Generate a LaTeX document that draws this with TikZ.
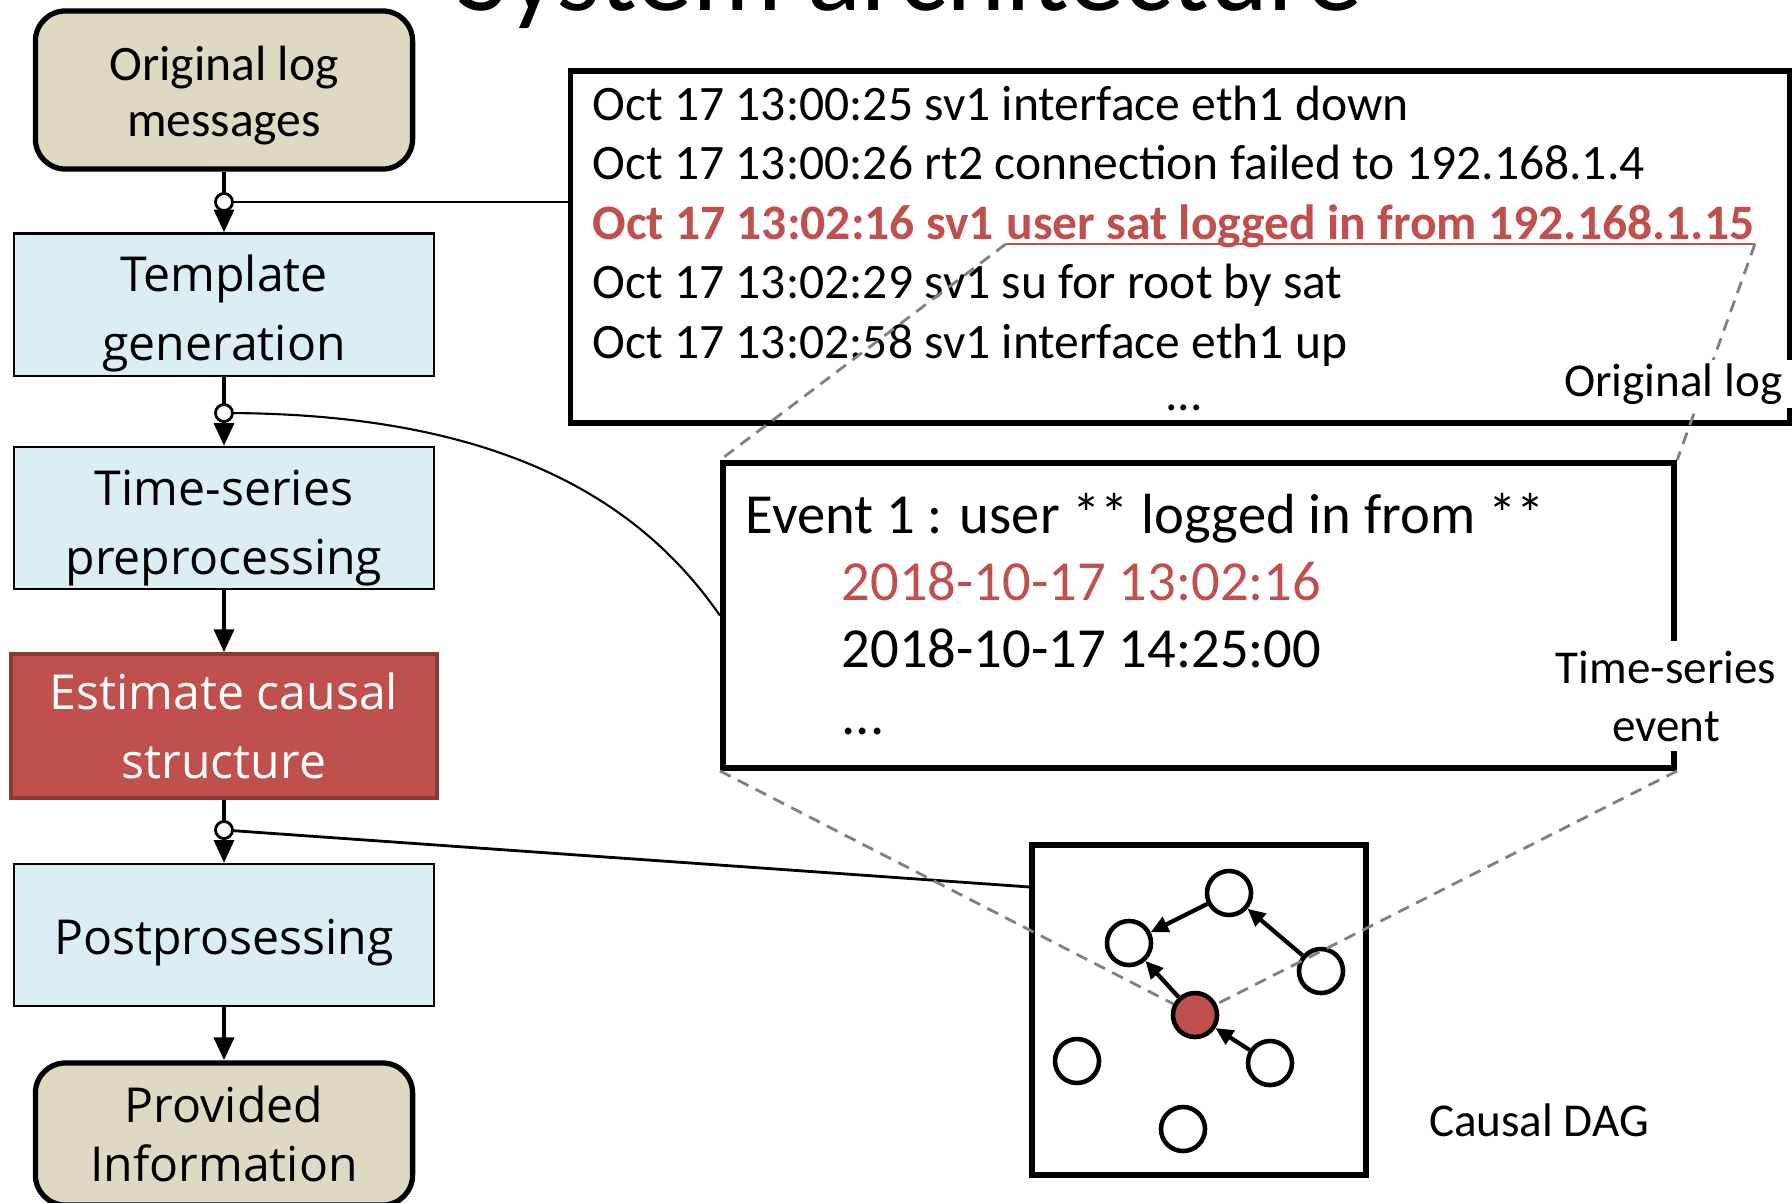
\documentclass[tikz,border=0pt]{standalone}
\usepackage{fontspec}
\setmainfont{Carlito}
\newfontfamily\boxfont{Open Sans}
\usepackage{tikz}
\usetikzlibrary{positioning}
\usetikzlibrary{arrows.meta}
\definecolor{tanfill}{HTML}{DDD9C3}
\definecolor{stepblue}{HTML}{DAEEF3}
\definecolor{causered}{HTML}{C0504D}
\definecolor{causeedge}{HTML}{8C3836}

\begin{document}
\begin{tikzpicture}[x=0.01cm, y=-0.01cm,
    endbox/.style={rectangle, rounded corners=0.3cm, draw, line width=1.5pt, fill=tanfill,
                   minimum width=3.77cm, minimum height=1.58cm, inner sep=0pt, align=center},
    stepbox/.style={rectangle, draw, line width=0.6pt, fill=stepblue,
                    minimum width=4.2cm, minimum height=1.42cm, inner sep=0pt, align=center,
                    font=\boxfont\fontsize{13.7}{19.6}\selectfont},
    flow/.style={line width=1.2pt, -{Triangle[length=6.5pt, width=5.6pt]}},
    junction/.style={circle, draw, line width=0.8pt, fill=white, minimum size=0.17cm, inner sep=0pt},
    panel/.style={rectangle, draw, line width=1.6pt, inner sep=0pt},
    logline/.style={anchor=base west, inner sep=0pt, font=\fontsize{14.1}{17}\selectfont},
    evline/.style={anchor=base west, inner sep=0pt, font=\fontsize{16.1}{19}\selectfont},
    tag/.style={fill=white, inner sep=0.04cm, align=center, font=\fontsize{13.4}{16.5}\selectfont},
    dagnode/.style={circle, draw, line width=1.3pt, fill=white, minimum size=0.44cm, inner sep=0pt},
    dagedge/.style={line width=1.2pt, -{Triangle[length=5pt, width=4.6pt]}},
    zoomline/.style={gray, line width=0.8pt, dash pattern=on 3.4pt off 2.3pt}]

  \useasboundingbox (0,0) rectangle (1792,1202);

  \node[anchor=base west, inner sep=0pt, font=\fontsize{32}{38}\selectfont] (title) at (456,10) {System architecture};

  % processing steps
  \node[endbox, font=\fontsize{14.1}{15.9}\selectfont] (orig) at (224,90) {\rule{0pt}{0.45cm}Original log\\messages};
  \node[stepbox] (tmpl) at (224,304.5) {\rule{0pt}{0.55cm}Template\\generation};
  \node[stepbox] (prep) at (224,518) {\rule{0pt}{0.55cm}Time-series\\preprocessing};
  \node[stepbox, fill=causered, draw=causeedge, line width=1pt, text=white,
        minimum width=4.26cm, minimum height=1.44cm] (est) at (224,726) {Estimate causal\\structure};
  \node[stepbox] (post) at (224,935) {\rule{0pt}{0.5cm}Postprosessing};
  \node[endbox, font=\boxfont\fontsize{13.7}{16.8}\selectfont, minimum height=1.42cm] (info) at (224,1134) {Provided\\Information};

  \draw[flow] (orig) -- (tmpl);
  \draw[flow] (tmpl) -- (prep);
  \draw[flow] (prep) -- (est);
  \draw[flow] (est) -- (post);
  \draw[flow] (post) -- (info);

  % panels
  \node[panel, minimum width=12.18cm, minimum height=3.52cm] (logbox) at (1180,247) {};
  \node[panel, minimum width=9.51cm, minimum height=3.05cm] (evbox) at (1198.5,615.5) {};
  \node[panel, minimum width=3.34cm, minimum height=3.3cm] (dagbox) at (1199,1010) {};

  \node[logline] (l1) at (592,120) {Oct 17 13:00:25 sv1 interface eth1 down};
  \node[logline] (l2) at (592,179.5) {Oct 17 13:00:26 rt2 connection failed to 192.168.1.4};
  \node[logline, text=causered, font=\bfseries\fontsize{14.1}{17}\selectfont] (l3a) at (592,239) {Oct 17 13:02:16 sv1\ \null};
  \node[logline, text=causered, font=\bfseries\fontsize{14.1}{17}\selectfont] (l3b) at (l3a.base east) {user sat logged in from 192.168.1.15};
  \node[logline] (l4) at (592,298.5) {Oct 17 13:02:29 sv1 su for root by sat};
  \node[logline] (l5) at (592,358) {Oct 17 13:02:58 sv1 interface eth1 up};
  \node[logline, anchor=base] (l6) at (1184,410) {...};
  \coordinate (ul1) at ([yshift=-0.05cm]l3b.base west);
  \coordinate (ul2) at ([yshift=-0.05cm]l3b.base east);
  \draw[causered, line width=0.8pt] (ul1) -- (ul2);

  \node[evline] (ev) at (745,533) {Event 1 : user ** logged in from **};
  \node[evline, text=causered] (t1) at (841,600) {2018-10-17 13:02:16};
  \node[evline] (t2) at (841,667) {2018-10-17 14:25:00};
  \node[evline] (t3) at (841,734) {...};

  % links from the flow
  \coordinate (j1) at (224,202);
  \coordinate (j2) at (224,413);
  \coordinate (j3) at (224,830);
  \draw[line width=0.8pt] (j1) -- (logbox.west |- j1);
  \draw[line width=0.6pt] (j2) .. controls (500,413) and (640,500) .. (evbox.west);
  \draw[line width=0.8pt] (j3) -- ([yshift=1.23cm]dagbox.west);
  \foreach \j in {j1,j2,j3}
    \node[junction] at (\j) {};

  % causal graph
  \node[dagnode] (na) at (1229,893) {};
  \node[dagnode] (nb) at (1129,943) {};
  \node[dagnode] (nc) at (1321,971) {};
  \node[dagnode, fill=causered] (nr) at (1195,1015) {};
  \node[dagnode] (nd) at (1270,1063) {};
  \node[dagnode] (ne) at (1077,1061) {};
  \node[dagnode] (nf) at (1183,1129) {};
  \draw[dagedge] (na) -- (nb);
  \draw[dagedge] (nc) -- (na);
  \draw[dagedge] (nr) -- (nb);
  \draw[dagedge] (nd) -- (nr);

  \draw[zoomline] (ul1) -- (evbox.north west);
  \draw[zoomline] (ul2) -- (evbox.north east);
  \draw[zoomline] (evbox.south west) -- (nr);
  \draw[zoomline] (evbox.south east) -- (nr);

  \node[tag, anchor=east, inner xsep=0.13cm] (loglabel) at (1796,384) {Original log};
  \node[tag, inner ysep=0.1cm] (evlabel) at (1666,696) {Time-series\\event};
  \node[font=\fontsize{13.4}{16}\selectfont] (daglabel) at (1539,1120) {Causal DAG};
\end{tikzpicture}
\end{document}
